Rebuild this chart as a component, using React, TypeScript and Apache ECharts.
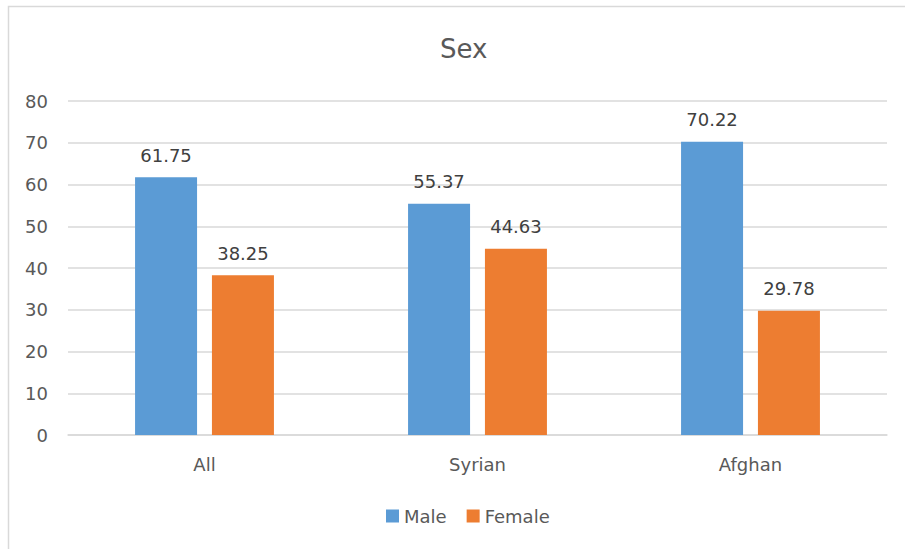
import React, { useEffect, useRef } from "react";
import * as echarts from "echarts";

const categories = ["All", "Syrian", "Afghan"];
const maleValues = [61.75, 55.37, 70.22];
const femaleValues = [38.25, 44.63, 29.78];
const yTicks = { min: 0, max: 80, interval: 10 };

const FONT = "DejaVu Sans";

export default function App() {
  const ref = useRef<HTMLDivElement>(null);
  useEffect(() => {
    if (!ref.current) return;
    const chart = echarts.init(ref.current, undefined, { renderer: "svg" });
    const labelStyle = {
      show: true,
      position: "top" as const,
      distance: 13,
      fontSize: 18,
      fontFamily: FONT,
      color: "#404040",
      formatter: (p: any) => p.value.toFixed(2),
    };
    chart.setOption({
      animation: false,
      backgroundColor: "#ffffff",
      textStyle: { fontFamily: FONT },
      title: {
        text: "Sex",
        left: 435,
        top: 31,
        textStyle: { fontSize: 26, fontWeight: "normal", color: "#595959", fontFamily: FONT },
      },
      graphic: [
        {
          type: "rect",
          shape: { x: 8.5, y: 6.5, width: 1000, height: 1000 },
          style: { fill: "none", stroke: "#d9d9d9", lineWidth: 1.5 },
          silent: true,
        },
      ],
      legend: {
        data: ["Male", "Female"],
        left: 381,
        top: 502,
        icon: "rect",
        itemWidth: 13,
        itemHeight: 13,
        itemGap: 20,
        textStyle: { fontSize: 18, color: "#595959", fontFamily: FONT },
      },
      grid: { left: 68, right: 18, top: 101, bottom: 114, containLabel: false },
      xAxis: {
        type: "category",
        data: categories,
        axisLine: { show: true, lineStyle: { color: "#d9d9d9", width: 1.5 } },
        axisTick: { show: false },
        axisLabel: { fontSize: 18, color: "#595959", margin: 20, fontFamily: FONT },
      },
      yAxis: {
        type: "value",
        min: yTicks.min,
        max: yTicks.max,
        interval: yTicks.interval,
        axisLine: { show: false },
        axisTick: { show: false },
        axisLabel: { fontSize: 18, color: "#595959", margin: 20, fontFamily: FONT },
        splitLine: { lineStyle: { color: "#d9d9d9", width: 1.5 } },
      },
      series: [
        {
          name: "Male",
          type: "bar",
          data: maleValues,
          barWidth: 62,
          barGap: "24%",
          itemStyle: { color: "#5b9bd5" },
          label: labelStyle,
        },
        {
          name: "Female",
          type: "bar",
          data: femaleValues,
          barWidth: 62,
          barGap: "24%",
          itemStyle: { color: "#ed7d31" },
          label: labelStyle,
        },
      ],
    });
    return () => chart.dispose();
  }, []);
  return (
    <div
      ref={ref}
      style={{ position: "fixed", left: 0, top: 0, width: 905, height: 549 }}
    />
  );
}
